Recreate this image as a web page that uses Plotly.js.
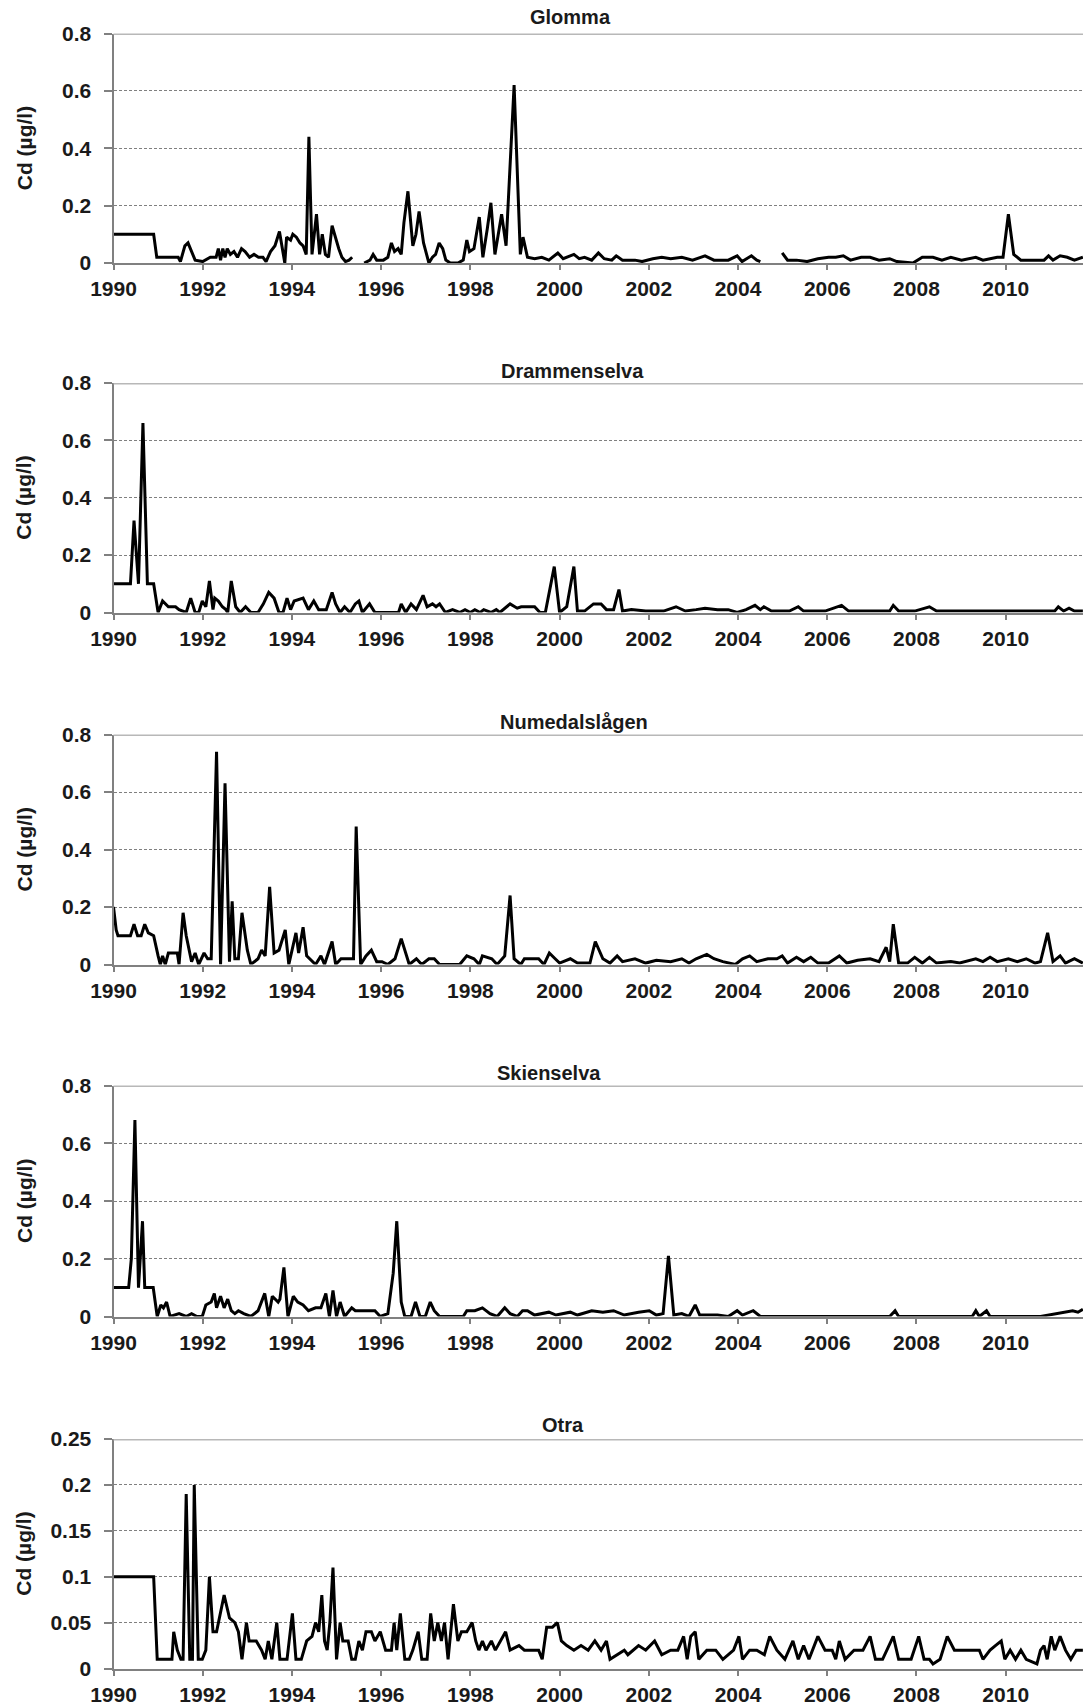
<!DOCTYPE html>
<html><head><meta charset="utf-8">
<script src="https://cdn.plot.ly/plotly-3.0.1.min.js"></script>
<style>html,body{margin:0;padding:0;background:#fff}#chart{width:1083px;height:1708px}</style>
</head><body><div id="chart"></div>
<script>
const panelTitles = ['Glomma','Drammenselva','Numedalslågen','Skienselva','Otra'];
const yAxisLabel = 'Cd (µg/l)';
const yMax = [0.8, 0.8, 0.8, 0.8, 0.25];
const yStep = [0.2, 0.2, 0.2, 0.2, 0.05];

const glommaYear = [1990.0,1990.9,1990.97,1991.45,1991.5,1991.6,1991.67,1991.75,1991.83,1992.0,1992.17,1992.3,1992.35,1992.4,1992.45,1992.5,1992.55,1992.62,1992.7,1992.78,1992.87,1992.95,1993.05,1993.15,1993.25,1993.35,1993.42,1993.52,1993.62,1993.72,1993.78,1993.84,1993.88,1993.97,1994.02,1994.1,1994.18,1994.25,1994.32,1994.38,1994.45,1994.55,1994.62,1994.68,1994.75,1994.82,1994.9,1994.97,1995.05,1995.12,1995.2,1995.28,1995.35,1995.45,1995.62,1995.75,1995.82,1995.9,1996.05,1996.15,1996.23,1996.3,1996.38,1996.45,1996.51,1996.6,1996.71,1996.78,1996.85,1996.95,1997.07,1997.15,1997.22,1997.3,1997.38,1997.45,1997.55,1997.72,1997.84,1997.92,1997.98,1998.08,1998.2,1998.28,1998.38,1998.46,1998.55,1998.63,1998.7,1998.8,1998.98,1999.12,1999.18,1999.28,1999.44,1999.6,1999.76,1999.96,2000.08,2000.32,2000.44,2000.56,2000.72,2000.87,2001.0,2001.17,2001.27,2001.41,2001.69,2001.85,2002.09,2002.29,2002.49,2002.74,2002.98,2003.26,2003.46,2003.78,2003.98,2004.09,2004.3,2004.42,2004.5,2004.75,2004.99,2005.11,2005.31,2005.55,2005.79,2006.03,2006.19,2006.36,2006.52,2006.76,2006.96,2007.16,2007.4,2007.56,2007.92,2008.13,2008.37,2008.57,2008.77,2009.01,2009.33,2009.49,2009.65,2009.81,2009.94,2010.06,2010.18,2010.34,2010.86,2010.96,2011.06,2011.22,2011.38,2011.54,2011.73];
const glommaCd = [0.1,0.1,0.02,0.02,0.005,0.06,0.07,0.04,0.01,0.005,0.02,0.02,0.05,0.01,0.05,0.02,0.05,0.03,0.04,0.02,0.05,0.04,0.02,0.03,0.02,0.02,0.005,0.04,0.06,0.11,0.06,0.0,0.09,0.08,0.1,0.09,0.07,0.06,0.03,0.44,0.03,0.17,0.03,0.1,0.03,0.02,0.13,0.09,0.05,0.02,0.005,0.01,0.02,null,0.0,0.01,0.03,0.01,0.01,0.02,0.07,0.04,0.05,0.03,0.14,0.25,0.06,0.1,0.18,0.07,0.0,0.02,0.03,0.07,0.05,0.01,0.0,0.0,0.01,0.08,0.04,0.05,0.16,0.02,0.12,0.21,0.03,0.1,0.17,0.06,0.62,0.03,0.09,0.02,0.015,0.02,0.01,0.035,0.015,0.03,0.015,0.02,0.01,0.035,0.015,0.01,0.025,0.01,0.01,0.005,0.015,0.02,0.015,0.02,0.01,0.025,0.01,0.01,0.025,0.005,0.025,0.01,0.005,null,0.035,0.01,0.01,0.005,0.015,0.02,0.02,0.025,0.01,0.02,0.02,0.01,0.015,0.005,0.0,0.02,0.02,0.01,0.02,0.01,0.02,0.01,0.015,0.02,0.02,0.17,0.03,0.01,0.01,0.025,0.01,0.025,0.02,0.01,0.02];

const drammenYear = [1990.0,1990.38,1990.46,1990.56,1990.66,1990.76,1990.9,1991.0,1991.1,1991.16,1991.23,1991.39,1991.47,1991.63,1991.73,1991.83,1991.91,1991.99,1992.07,1992.15,1992.23,1992.27,1992.35,1992.44,1992.52,1992.56,1992.64,1992.74,1992.84,1992.96,1993.08,1993.24,1993.36,1993.48,1993.6,1993.71,1993.8,1993.89,1993.97,1994.05,1994.25,1994.37,1994.49,1994.6,1994.77,1994.9,1994.98,1995.08,1995.18,1995.3,1995.42,1995.5,1995.58,1995.74,1995.86,1996.39,1996.45,1996.55,1996.67,1996.79,1996.94,1997.03,1997.15,1997.23,1997.31,1997.44,1997.6,1997.76,1997.88,1998.0,1998.1,1998.22,1998.3,1998.46,1998.58,1998.66,1998.89,1999.05,1999.14,1999.44,1999.56,1999.68,1999.88,2000.0,2000.16,2000.32,2000.4,2000.56,2000.76,2000.93,2001.05,2001.21,2001.33,2001.41,2001.61,2001.93,2002.33,2002.61,2002.82,2003.06,2003.26,2003.54,2003.78,2003.98,2004.18,2004.38,2004.5,2004.58,2004.75,2005.15,2005.35,2005.47,2005.95,2006.32,2006.48,2007.4,2007.48,2007.6,2007.96,2008.29,2008.45,2011.1,2011.18,2011.3,2011.42,2011.54,2011.73];
const drammenCd = [0.1,0.1,0.32,0.1,0.66,0.1,0.1,0.0,0.04,0.03,0.02,0.02,0.01,0.0,0.05,0.0,0.0,0.04,0.02,0.11,0.01,0.05,0.04,0.02,0.01,0.0,0.11,0.02,0.0,0.02,0.0,0.0,0.03,0.07,0.05,0.0,0.0,0.05,0.01,0.04,0.05,0.01,0.04,0.01,0.01,0.07,0.03,0.0,0.02,0.0,0.03,0.04,0.0,0.03,0.0,0.0,0.03,0.0,0.03,0.01,0.06,0.02,0.03,0.02,0.03,0.0,0.01,0.0,0.01,0.0,0.01,0.0,0.01,0.0,0.01,0.0,0.03,0.015,0.02,0.02,0.0,0.0,0.16,0.0,0.02,0.16,0.005,0.005,0.03,0.03,0.01,0.01,0.08,0.005,0.01,0.005,0.005,0.02,0.005,0.01,0.015,0.01,0.01,0.0,0.01,0.025,0.01,0.02,0.005,0.005,0.02,0.005,0.005,0.025,0.005,0.005,0.025,0.005,0.005,0.02,0.005,0.005,0.02,0.005,0.015,0.005,0.005];

const numedalYear = [1990.0,1990.06,1990.1,1990.38,1990.46,1990.54,1990.62,1990.7,1990.78,1990.9,1991.0,1991.05,1991.1,1991.16,1991.23,1991.43,1991.47,1991.56,1991.63,1991.75,1991.83,1991.91,1992.03,1992.11,1992.19,1992.31,1992.4,1992.5,1992.6,1992.66,1992.72,1992.8,1992.88,1993.0,1993.08,1993.24,1993.32,1993.4,1993.5,1993.6,1993.71,1993.85,1993.93,1994.09,1994.15,1994.25,1994.33,1994.45,1994.53,1994.65,1994.73,1994.9,1994.98,1995.1,1995.38,1995.44,1995.54,1995.66,1995.78,1995.9,1996.02,1996.15,1996.31,1996.45,1996.63,1996.79,1996.91,1997.07,1997.19,1997.31,1997.76,1997.92,1998.08,1998.2,1998.27,1998.48,1998.6,1998.77,1998.89,1998.98,1999.13,1999.21,1999.53,1999.65,1999.77,1999.9,2000.0,2000.24,2000.4,2000.68,2000.8,2000.97,2001.13,2001.29,2001.41,2001.69,2001.93,2002.17,2002.49,2002.74,2002.9,2003.06,2003.3,2003.46,2003.66,2003.94,2004.1,2004.26,2004.42,2004.67,2004.87,2004.99,2005.11,2005.31,2005.47,2005.63,2005.79,2006.03,2006.27,2006.44,2006.68,2006.96,2007.16,2007.32,2007.4,2007.48,2007.6,2007.8,2007.96,2008.13,2008.29,2008.45,2008.77,2008.97,2009.33,2009.49,2009.65,2009.81,2010.06,2010.26,2010.46,2010.66,2010.78,2010.94,2011.06,2011.22,2011.34,2011.54,2011.73];
const numedalCd = [0.2,0.12,0.1,0.1,0.14,0.1,0.1,0.14,0.11,0.1,0.03,0.0,0.03,0.0,0.04,0.04,0.0,0.18,0.1,0.01,0.04,0.0,0.04,0.02,0.02,0.74,0.0,0.63,0.01,0.22,0.02,0.02,0.18,0.05,0.0,0.02,0.05,0.03,0.27,0.04,0.05,0.12,0.0,0.11,0.04,0.13,0.03,0.01,0.0,0.03,0.0,0.08,0.0,0.02,0.02,0.48,0.0,0.03,0.05,0.01,0.01,0.0,0.02,0.09,0.0,0.02,0.0,0.02,0.02,0.0,0.0,0.03,0.02,0.0,0.03,0.02,0.0,0.03,0.24,0.02,0.0,0.02,0.02,0.0,0.04,0.02,0.005,0.02,0.005,0.005,0.08,0.02,0.005,0.03,0.01,0.02,0.005,0.015,0.01,0.02,0.005,0.02,0.035,0.02,0.01,0.0,0.02,0.03,0.01,0.02,0.02,0.03,0.005,0.025,0.01,0.025,0.005,0.005,0.03,0.005,0.015,0.02,0.01,0.06,0.01,0.14,0.005,0.005,0.025,0.005,0.025,0.005,0.01,0.005,0.02,0.01,0.025,0.01,0.02,0.01,0.02,0.005,0.01,0.11,0.01,0.03,0.005,0.02,0.005];

const skienYear = [1990.0,1990.34,1990.4,1990.48,1990.56,1990.65,1990.7,1990.89,1990.98,1991.06,1991.12,1991.19,1991.27,1991.47,1991.63,1991.75,1991.87,1991.99,1992.07,1992.19,1992.26,1992.31,1992.4,1992.48,1992.56,1992.64,1992.72,1992.8,1992.92,1993.08,1993.24,1993.39,1993.48,1993.56,1993.69,1993.73,1993.82,1993.91,1994.03,1994.13,1994.25,1994.37,1994.53,1994.65,1994.76,1994.84,1994.92,1995.0,1995.08,1995.18,1995.34,1995.42,1995.86,1995.98,1996.15,1996.27,1996.35,1996.45,1996.53,1996.67,1996.77,1996.87,1996.99,1997.1,1997.19,1997.31,1997.84,1997.92,1998.1,1998.27,1998.44,1998.6,1998.77,1998.89,1999.05,1999.17,1999.28,1999.44,1999.76,1999.92,2000.24,2000.4,2000.72,2000.97,2001.21,2001.45,2001.77,2002.01,2002.17,2002.32,2002.44,2002.56,2002.74,2002.9,2003.04,2003.14,2003.54,2003.78,2003.98,2004.1,2004.34,2004.5,2007.4,2007.52,2007.6,2009.25,2009.33,2009.41,2009.57,2009.65,2010.78,2011.18,2011.34,2011.5,2011.62,2011.73];
const skienCd = [0.1,0.1,0.2,0.68,0.1,0.33,0.1,0.1,0.0,0.04,0.03,0.05,0.0,0.01,0.0,0.01,0.0,0.0,0.04,0.05,0.08,0.03,0.07,0.03,0.06,0.02,0.01,0.02,0.01,0.0,0.02,0.08,0.0,0.07,0.05,0.06,0.17,0.0,0.07,0.05,0.04,0.02,0.03,0.03,0.08,0.0,0.09,0.0,0.05,0.0,0.03,0.02,0.02,0.0,0.01,0.15,0.33,0.05,0.0,0.0,0.05,0.0,0.0,0.05,0.02,0.0,0.0,0.02,0.02,0.03,0.01,0.0,0.03,0.01,0.0,0.02,0.02,0.005,0.015,0.005,0.015,0.005,0.02,0.015,0.02,0.005,0.015,0.02,0.005,0.01,0.21,0.005,0.01,0.0,0.04,0.005,0.005,0.0,0.02,0.005,0.02,0.0,0.0,0.02,0.0,0.0,0.02,0.0,0.02,0.0,0.0,0.01,0.015,0.02,0.015,0.025];

const otraYear = [1990.0,1990.9,1990.98,1991.31,1991.35,1991.43,1991.51,1991.56,1991.63,1991.71,1991.77,1991.81,1991.9,1991.99,1992.07,1992.15,1992.23,1992.31,1992.48,1992.6,1992.72,1992.8,1992.88,1992.98,1993.04,1993.2,1993.32,1993.4,1993.47,1993.55,1993.66,1993.73,1993.89,1994.01,1994.09,1994.21,1994.33,1994.45,1994.53,1994.6,1994.67,1994.73,1994.79,1994.85,1994.92,1995.0,1995.08,1995.14,1995.26,1995.34,1995.42,1995.5,1995.58,1995.66,1995.78,1995.86,1995.98,1996.1,1996.23,1996.29,1996.35,1996.43,1996.53,1996.63,1996.71,1996.83,1996.91,1997.03,1997.11,1997.19,1997.27,1997.35,1997.42,1997.5,1997.62,1997.72,1997.8,1997.92,1998.04,1998.12,1998.19,1998.27,1998.35,1998.47,1998.56,1998.68,1998.79,1998.89,1999.09,1999.21,1999.53,1999.61,1999.71,1999.84,1999.95,2000.04,2000.16,2000.32,2000.48,2000.64,2000.79,2000.93,2001.05,2001.13,2001.29,2001.45,2001.53,2001.77,2001.93,2002.13,2002.29,2002.49,2002.65,2002.78,2002.86,2002.94,2003.04,2003.12,2003.3,2003.5,2003.66,2003.9,2004.02,2004.1,2004.26,2004.42,2004.59,2004.71,2004.87,2005.05,2005.23,2005.35,2005.47,2005.59,2005.79,2005.95,2006.11,2006.19,2006.27,2006.4,2006.6,2006.8,2006.96,2007.08,2007.24,2007.48,2007.6,2007.88,2008.05,2008.17,2008.29,2008.37,2008.53,2008.69,2008.85,2009.09,2009.41,2009.49,2009.65,2009.77,2009.9,2009.98,2010.1,2010.22,2010.34,2010.46,2010.7,2010.78,2010.86,2010.93,2011.02,2011.1,2011.22,2011.34,2011.46,2011.58,2011.73];
const otraCd = [0.1,0.1,0.01,0.01,0.04,0.02,0.01,0.01,0.19,0.01,0.01,0.2,0.01,0.01,0.02,0.1,0.04,0.04,0.08,0.055,0.05,0.04,0.01,0.05,0.03,0.03,0.02,0.01,0.03,0.01,0.05,0.01,0.01,0.06,0.01,0.01,0.03,0.035,0.05,0.04,0.08,0.03,0.02,0.05,0.11,0.01,0.05,0.03,0.03,0.01,0.01,0.03,0.02,0.04,0.04,0.03,0.04,0.02,0.02,0.05,0.02,0.06,0.01,0.01,0.02,0.04,0.01,0.01,0.06,0.03,0.05,0.03,0.05,0.01,0.07,0.03,0.04,0.04,0.05,0.03,0.02,0.03,0.02,0.03,0.02,0.03,0.04,0.02,0.025,0.02,0.02,0.01,0.045,0.045,0.05,0.03,0.025,0.02,0.025,0.02,0.03,0.02,0.03,0.01,0.015,0.02,0.015,0.025,0.02,0.03,0.015,0.02,0.02,0.035,0.01,0.035,0.04,0.01,0.02,0.02,0.01,0.02,0.035,0.01,0.02,0.02,0.015,0.035,0.02,0.01,0.03,0.01,0.025,0.01,0.035,0.02,0.02,0.01,0.03,0.01,0.02,0.02,0.035,0.01,0.01,0.035,0.01,0.01,0.035,0.01,0.01,0.005,0.01,0.035,0.02,0.02,0.02,0.01,0.02,0.025,0.03,0.01,0.02,0.01,0.02,0.01,0.005,0.02,0.025,0.01,0.035,0.02,0.035,0.02,0.01,0.02,0.02];

const seriesYears = [glommaYear, drammenYear, numedalYear, skienYear, otraYear];
const seriesCd = [glommaCd, drammenCd, numedalCd, skienCd, otraCd];

// ---- layout geometry (pixels) ----
const W = 1083, H = 1708;
const plotLeft = 113.5, pxPerYear = 44.61;
const panelTop = [33.5, 383, 734.5, 1085.5, 1439];
const panelBottom = [263, 612.5, 964.5, 1316.5, 1668.5];
const titleX = [570, 572, 574, 549, 563];
const titleY = [17, 371, 722, 1073, 1425];
const xStart = 1990, xEnd = 1990 + (W - plotLeft) / pxPerYear;

const FONT = 'Liberation Sans, Arial, Helvetica, sans-serif';
const traces = [], annotations = [], shapes = [];
const layout = {
  width: W, height: H, showlegend: false,
  margin: {l: 0, r: 0, t: 0, b: 0},
  paper_bgcolor: '#fff', plot_bgcolor: '#fff',
  font: {family: FONT, size: 21, color: '#1a1a1a', weight: 'bold'}
};
for (let i = 0; i < 5; i++) {
  const s = i === 0 ? '' : String(i + 1);
  traces.push({
    type: 'scatter', mode: 'lines', x: seriesYears[i], y: seriesCd[i],
    xaxis: 'x' + s, yaxis: 'y' + s, connectgaps: false,
    line: {color: '#000', width: 3, shape: 'linear'}, hoverinfo: 'skip'
  });
  const yd = [1 - panelBottom[i] / H, 1 - panelTop[i] / H];
  layout['xaxis' + s] = {
    domain: [plotLeft / W, 1], range: [xStart, xEnd], anchor: 'y' + s,
    tick0: 1990, dtick: 2, ticks: 'outside', ticklen: 5, tickwidth: 2, tickcolor: '#808080',
    showline: true, linecolor: '#808080', linewidth: 2, showgrid: false, zeroline: false,
    tickfont: {family: FONT, size: 21, color: '#1a1a1a', weight: 'bold'}, ticklabelstandoff: 1
  };
  layout['yaxis' + s] = {
    domain: yd, range: [0, yMax[i]], anchor: 'x' + s, dtick: yStep[i], tick0: 0,
    ticks: 'outside', ticklen: 8, tickwidth: 2, tickcolor: '#808080',
    showline: true, linecolor: '#808080', linewidth: 2,
    showgrid: true, gridcolor: '#808080', gridwidth: 1, griddash: '3px,2px', zeroline: false,
    tickfont: {family: FONT, size: 21, color: '#1a1a1a', weight: 'bold'}, ticklabelstandoff: 8
  };
  shapes.push({type: 'line', xref: 'x' + s + ' domain', yref: 'y' + s, x0: 0, x1: 1,
    y0: yMax[i], y1: yMax[i], line: {color: '#b8b8b8', width: 3}, layer: 'above'});
  annotations.push({text: panelTitles[i], xref: 'paper', yref: 'paper',
    x: titleX[i] / W, y: 1 - titleY[i] / H, xanchor: 'center', yanchor: 'middle', showarrow: false,
    font: {family: FONT, size: 20, color: '#1a1a1a', weight: 'bold'}});
  annotations.push({text: yAxisLabel, xref: 'paper', yref: 'paper', textangle: -90,
    x: 24 / W, y: 1 - (panelTop[i] + panelBottom[i]) / 2 / H, xanchor: 'center', yanchor: 'middle',
    showarrow: false, font: {family: FONT, size: 21, color: '#1a1a1a', weight: 'bold'}});
}
layout.annotations = annotations;
layout.shapes = shapes;
Plotly.newPlot('chart', traces, layout, {staticPlot: true, displayModeBar: false});
</script></body></html>
